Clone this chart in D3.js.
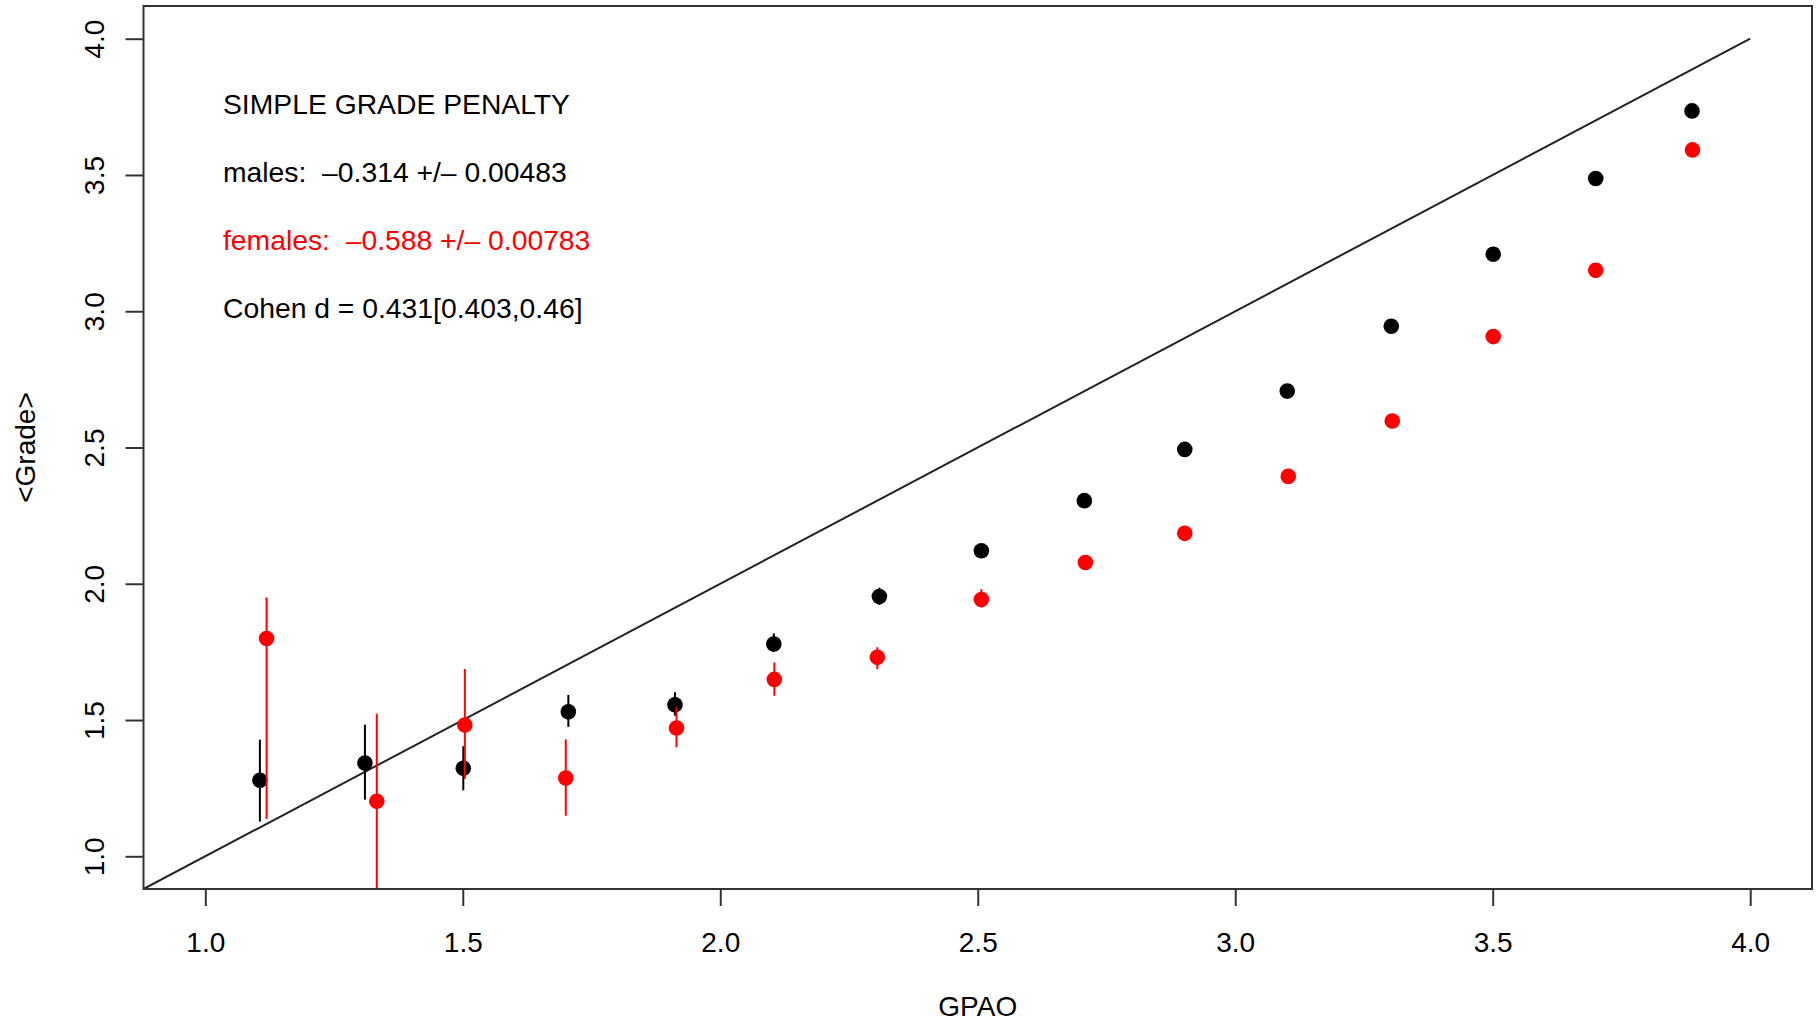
<!DOCTYPE html>
<html>
<head>
<meta charset="utf-8">
<script src="https://cdn.jsdelivr.net/npm/d3@7"></script>
<style>
  body { margin: 0; background: #fff; }
  svg { display: block; font-family: "Liberation Sans", Arial, Helvetica, sans-serif; }
  .tick-label { font-size: 28px; fill: #000; }
  .note { font-size: 28.3px; white-space: pre; }
</style>
</head>
<body>
<svg id="chart" width="1817" height="1021"></svg>
<script>
// ----------

// males: GPAO bin centre, mean grade and error bar ends
const gpaoMales = [1.106, 1.310, 1.501, 1.705, 1.912, 2.104, 2.309, 2.507, 2.707, 2.902, 3.101, 3.303, 3.501, 3.700, 3.887];
const gradeMales = [1.279, 1.342, 1.323, 1.530, 1.556, 1.779, 1.953, 2.121, 2.305, 2.493, 2.707, 2.945, 3.209, 3.487, 3.735];
const malesLo = [1.127, 1.208, 1.242, 1.475, 1.516, 1.750, 1.922, 2.106, 2.296, 2.486, 2.701, 2.940, 3.205, 3.484, 3.733];
const malesHi = [1.428, 1.483, 1.404, 1.592, 1.602, 1.818, 1.986, 2.136, 2.314, 2.500, 2.713, 2.950, 3.213, 3.490, 3.737];

// females
const gpaoFemales = [1.119, 1.333, 1.504, 1.700, 1.915, 2.105, 2.305, 2.507, 2.709, 2.902, 3.103, 3.305, 3.501, 3.700, 3.888];
const gradeFemales = [1.799, 1.202, 1.482, 1.287, 1.471, 1.649, 1.730, 1.942, 2.078, 2.185, 2.394, 2.597, 2.907, 3.150, 3.592];
const femalesLo = [1.137, 0.800, 1.284, 1.149, 1.400, 1.589, 1.687, 1.913, 2.064, 2.176, 2.387, 2.591, 2.902, 3.146, 3.589];
const femalesHi = [1.950, 1.523, 1.687, 1.429, 1.547, 1.711, 1.767, 1.980, 2.092, 2.194, 2.401, 2.603, 2.912, 3.154, 3.595];

const xTicks = [1.0, 1.5, 2.0, 2.5, 3.0, 3.5, 4.0];
const yTicks = [1.0, 1.5, 2.0, 2.5, 3.0, 3.5, 4.0];

const noteLines = [
  { text: "SIMPLE GRADE PENALTY", color: "#000" },
  { text: "males:  \u20130.314 +/\u2013 0.00483", color: "#000" },
  { text: "females:  \u20130.588 +/\u2013 0.00783", color: "#ff0000" },
  { text: "Cohen d = 0.431[0.403,0.46]", color: "#000" },
];

const MALE_COLOR = "#000";
const FEMALE_COLOR = "#ff0000";

// ----------

const svg = d3.select("#chart");
const plotLeft = 143.5, plotRight = 1812, plotTop = 6, plotBottom = 889;

// R pads the 1..4 range by 4% on each side
const x = d3.scaleLinear().domain([0.88, 4.12]).range([plotLeft, plotRight]);
const y = d3.scaleLinear().domain([0.88, 4.12]).range([plotBottom, plotTop]);

svg.append("clipPath").attr("id", "plot-clip")
  .append("rect")
  .attr("x", plotLeft).attr("y", plotTop)
  .attr("width", plotRight - plotLeft).attr("height", plotBottom - plotTop);

const plot = svg.append("g").attr("clip-path", "url(#plot-clip)");

// identity line, grade == GPAO
plot.append("line")
  .attr("x1", x(0.88)).attr("y1", y(0.88))
  .attr("x2", x(4)).attr("y2", y(4))
  .attr("stroke", "#222")
  .attr("stroke-width", 2);

function drawSeries(xs, ys, lo, hi, color) {
  const rows = xs.map((v, i) => ({ gx: v, gy: ys[i], lo: lo[i], hi: hi[i] }));
  const g = plot.append("g");
  g.selectAll("circle").data(rows).enter().append("circle")
    .attr("cx", d => x(d.gx))
    .attr("cy", d => y(d.gy))
    .attr("r", 7.8)
    .attr("fill", color);
  g.selectAll("line").data(rows).enter().append("line")
    .attr("x1", d => x(d.gx)).attr("x2", d => x(d.gx))
    .attr("y1", d => y(d.lo)).attr("y2", d => y(d.hi))
    .attr("stroke", color)
    .attr("stroke-width", 2);
}

drawSeries(gpaoMales, gradeMales, malesLo, malesHi, MALE_COLOR);
drawSeries(gpaoFemales, gradeFemales, femalesLo, femalesHi, FEMALE_COLOR);

// frame
svg.append("rect")
  .attr("x", plotLeft).attr("y", plotTop)
  .attr("width", plotRight - plotLeft).attr("height", plotBottom - plotTop)
  .attr("fill", "none")
  .attr("stroke", "#333")
  .attr("stroke-width", 2);

// ----------------- axes

const xAxis = svg.append("g")
  .attr("transform", `translate(0,${plotBottom})`)
  .call(d3.axisBottom(x).tickValues(xTicks).tickFormat(d3.format(".1f")).tickSize(17));
xAxis.select(".domain").remove();
xAxis.selectAll(".tick line").attr("stroke", "#333").attr("stroke-width", 2);
xAxis.selectAll(".tick text")
  .attr("class", "tick-label")
  .attr("y", 62.7)
  .attr("dy", 0);

const yAxis = svg.append("g")
  .attr("transform", `translate(${plotLeft},0)`)
  .call(d3.axisLeft(y).tickValues(yTicks).tickFormat(d3.format(".1f")).tickSize(18));
yAxis.select(".domain").remove();
yAxis.selectAll(".tick line").attr("stroke", "#333").attr("stroke-width", 2);
yAxis.selectAll(".tick text")
  .attr("class", "tick-label")
  .attr("transform", "rotate(-90)")
  .attr("x", 0)
  .attr("y", -39.5)
  .attr("dy", 0)
  .attr("text-anchor", "middle");

// axis groups carry their own font attrs, override them
xAxis.attr("font-size", null).attr("font-family", null);
yAxis.attr("font-size", null).attr("font-family", null);

svg.append("text")
  .attr("x", (plotLeft + plotRight) / 2)
  .attr("y", 1016)
  .attr("text-anchor", "middle")
  .style("font-size", "28px")
  .text("GPAO");

svg.append("text")
  .attr("transform", `translate(35,${(plotTop + plotBottom) / 2}) rotate(-90)`)
  .attr("text-anchor", "middle")
  .style("font-size", "28px")
  .text("<Grade>");

// ----------------- annotation block

svg.selectAll(".note").data(noteLines).enter().append("text")
  .attr("class", "note")
  .attr("x", 223)
  .attr("y", (d, i) => 114 + i * 68)
  .attr("fill", d => d.color)
  .text(d => d.text);
</script>
</body>
</html>
